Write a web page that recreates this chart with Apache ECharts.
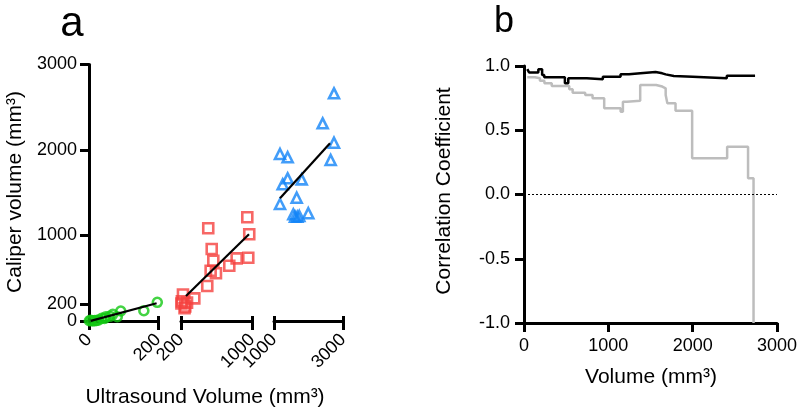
<!DOCTYPE html>
<html>
<head>
<meta charset="utf-8">
<script src="https://cdn.jsdelivr.net/npm/echarts@6/dist/echarts.min.js"></script>
<style>
html,body{margin:0;padding:0;background:#fff;}
#chart{width:800px;height:409px;}
</style>
</head>
<body>
<div id="chart"></div>
<script>
// ---------- Panel a data ----------
const usSmall  = [1, 5, 10, 17, 22, 28, 37, 45, 49, 60, 69, 82, 92, 159, 198];
const calSmall = [3, 8, 2, 4, 6, 12, 32, 30, 50, 55, 78, 50, 117, 120, 219];
const usMid  = [205, 210, 222, 240, 248, 268, 350, 496, 507, 534, 546, 564, 594, 744, 827, 947, 958, 969];
const calMid = [205, 230, 310, 150, 170, 215, 265, 409, 1084, 588, 842, 705, 558, 647, 733, 1213, 740, 1014];
const usLarge  = [1174, 1252, 1174, 1396, 1396, 1560, 1609, 1675, 1733, 1658, 1803, 1994, 2411, 2643, 2739, 2739];
const calLarge = [1368, 1599, 1953, 1915, 1669, 1248, 1220, 1220, 1228, 1442, 1657, 1260, 2312, 1883, 2085, 2663];
const fitSmallX = [5, 196],   fitSmallY = [2, 207];
const fitMidX = [256, 966],   fitMidY = [292, 1014];
const fitLargeX = [1174, 2623], fitLargeY = [1435, 2079];
const yTicksA = [0, 200, 1000, 2000, 3000];
const yLabelsMain = [0, 1000, 2000, 3000];
const yLabelsExtra = [200];
const segments = [[0, 200], [200, 1000], [1000, 3000]];

// ---------- Panel b data ----------
const blackX = [39, 60, 170, 215, 240, 485, 525, 745, 935, 1145, 1245, 1380, 1560, 1640, 1680, 1777, 2000, 2405, 2740];
const blackY = [0.975, 0.95, 0.975, 0.93, 0.912, 0.865, 0.904, 0.896, 0.917, 0.935, 0.943, 0.953, 0.943, 0.935, 0.922, 0.917, 0.904, 0.925, 0.93];
const grayX = [39, 130, 189, 242, 329, 537, 577, 726, 813, 951, 1146, 1173, 1220, 1378, 1567, 1640, 1680, 1700, 1797, 1994, 2409, 2657, 2722];
const grayY = [0.912, 0.904, 0.886, 0.865, 0.844, 0.819, 0.792, 0.774, 0.749, 0.671, 0.644, 0.722, 0.73, 0.852, 0.84, 0.826, 0.774, 0.71, 0.652, 0.282, 0.372, 0.126, -1.0];

const FONT = 'Liberation Sans, Arial, Helvetica, sans-serif';
const zip = (a, b) => a.map((v, i) => [v, b[i]]);
const plain = v => String(v);

const chart = echarts.init(document.getElementById('chart'), null, {renderer: 'canvas'});

const grids = [
  {left: 89, top: 64.5, width: 69, height: 256.5},
  {left: 181, top: 64.5, width: 71, height: 256.5},
  {left: 274, top: 64.5, width: 69, height: 256.5},
  {left: 524, top: 66, width: 254, height: 257}
];

const xAxes = [];
segments.forEach((s, gi) => {
  xAxes.push({
    type: 'value', gridIndex: gi, min: s[0], max: s[1], position: 'bottom',
    axisLine: {show: true, onZero: false, lineStyle: {color: '#000', width: 3}},
    axisTick: {show: true, customValues: s, length: 9, lineStyle: {color: '#000', width: 3}},
    axisLabel: {customValues: s, rotate: 45, fontSize: 18, color: '#000', margin: 16, fontFamily: FONT,
                formatter: plain, showMinLabel: true, showMaxLabel: true, hideOverlap: false},
    splitLine: {show: false}
  });
  xAxes.push({
    type: 'value', gridIndex: gi, min: s[0], max: s[1], position: 'bottom',
    axisLine: {show: false, onZero: false},
    axisTick: {show: true, inside: true, customValues: s, length: 5, lineStyle: {color: '#000', width: 3}},
    axisLabel: {show: false},
    splitLine: {show: false}
  });
});
xAxes.push({
  type: 'value', gridIndex: 3, min: 0, max: 3000, interval: 1000, position: 'bottom',
  axisLine: {show: true, onZero: false, lineStyle: {color: '#000', width: 3}},
  axisTick: {show: true, length: 9, lineStyle: {color: '#000', width: 3}},
  axisLabel: {fontSize: 18, color: '#000', margin: 14, fontFamily: FONT, formatter: plain,
              showMinLabel: true, showMaxLabel: true},
  splitLine: {show: false}
});

const yAxes = [
  {
    type: 'value', gridIndex: 0, min: 0, max: 3000, position: 'left',
    axisLine: {show: true, onZero: false, lineStyle: {color: '#000', width: 3}},
    axisTick: {show: true, customValues: yTicksA, length: 9, lineStyle: {color: '#000', width: 3}},
    axisLabel: {customValues: yLabelsMain, fontSize: 18, color: '#000', margin: 12, fontFamily: FONT,
                formatter: plain, showMinLabel: true, showMaxLabel: true, hideOverlap: false},
    splitLine: {show: false}
  },
  {type: 'value', gridIndex: 1, min: 0, max: 3000, show: false},
  {type: 'value', gridIndex: 2, min: 0, max: 3000, show: false},
  {
    type: 'value', gridIndex: 3, min: -1, max: 1, interval: 0.5,
    axisLine: {show: true, onZero: false, lineStyle: {color: '#000', width: 3}},
    axisTick: {show: true, length: 9, lineStyle: {color: '#000', width: 3}},
    axisLabel: {fontSize: 18, color: '#000', margin: 14, fontFamily: FONT, formatter: v => v.toFixed(1),
                showMinLabel: true, showMaxLabel: true},
    splitLine: {show: false}
  },
  {
    type: 'value', gridIndex: 0, min: 0, max: 3000, position: 'left', offset: 0,
    axisLine: {show: false, onZero: false},
    axisTick: {show: false},
    axisLabel: {customValues: yLabelsExtra, fontSize: 18, color: '#000', margin: 12, fontFamily: FONT,
                formatter: plain, showMinLabel: true, showMaxLabel: true, hideOverlap: false},
    splitLine: {show: false}
  }
];

function scatter(xs, ys, xi, yi, symbol, size, color) {
  return {
    type: 'scatter', xAxisIndex: xi, yAxisIndex: yi, data: zip(xs, ys), clip: false,
    symbol: symbol, symbolSize: size,
    itemStyle: {color: 'rgba(255,255,255,0)', borderColor: color, borderWidth: 2.6},
    silent: true, z: 3
  };
}
function fit(xs, ys, xi, yi) {
  return {
    type: 'line', xAxisIndex: xi, yAxisIndex: yi, data: zip(xs, ys), symbol: 'none',
    lineStyle: {color: '#000', width: 2.2}, silent: true, z: 4
  };
}

const option = {
  animation: false,
  backgroundColor: '#fff',
  grid: grids,
  xAxis: xAxes,
  yAxis: yAxes,
  series: [
    scatter(usSmall, calSmall, 0, 0, 'circle', 9, '#14c814'),
    scatter(usMid, calMid, 2, 1, 'rect', 10, '#f5413f'),
    scatter(usLarge, calLarge, 4, 2, 'triangle', 10, '#1385f7'),
    fit(fitSmallX, fitSmallY, 0, 0),
    fit(fitMidX, fitMidY, 2, 1),
    fit(fitLargeX, fitLargeY, 4, 2),
    {
      type: 'line', xAxisIndex: 6, yAxisIndex: 3, data: zip(grayX, grayY), step: 'end',
      symbol: 'none', lineStyle: {color: '#bdbdbd', width: 2.5}, silent: true, z: 2
    },
    {
      type: 'line', xAxisIndex: 6, yAxisIndex: 3, data: zip(blackX, blackY), step: 'end',
      symbol: 'none', lineStyle: {color: '#000', width: 2.5}, silent: true, z: 3,
      markLine: {
        silent: true, symbol: ['none', 'none'], label: {show: false},
        lineStyle: {color: '#000', width: 1, type: [2, 2]},
        data: [{yAxis: 0}]
      }
    }
  ],
  graphic: [
    {type: 'text', x: 72, y: 24, style: {text: 'a', fontSize: 42, fontFamily: FONT, fill: '#000', align: 'center', verticalAlign: 'middle'}},
    {type: 'text', x: 504, y: 22, style: {text: 'b', fontSize: 36, fontFamily: FONT, fill: '#000', align: 'center', verticalAlign: 'middle'}},
    {type: 'text', x: 15, y: 192, rotation: Math.PI / 2, style: {text: 'Caliper volume (mm³)', fontSize: 21, fontFamily: FONT, fill: '#000', align: 'center', verticalAlign: 'middle'}},
    {type: 'text', x: 205, y: 397, style: {text: 'Ultrasound Volume (mm³)', fontSize: 21, fontFamily: FONT, fill: '#000', align: 'center', verticalAlign: 'middle'}},
    {type: 'text', x: 444, y: 191, rotation: Math.PI / 2, style: {text: 'Correlation Coefficient', fontSize: 21, fontFamily: FONT, fill: '#000', align: 'center', verticalAlign: 'middle'}},
    {type: 'text', x: 651, y: 377, style: {text: 'Volume (mm³)', fontSize: 21, fontFamily: FONT, fill: '#000', align: 'center', verticalAlign: 'middle'}}
  ]
};
chart.setOption(option);
</script>
</body>
</html>
